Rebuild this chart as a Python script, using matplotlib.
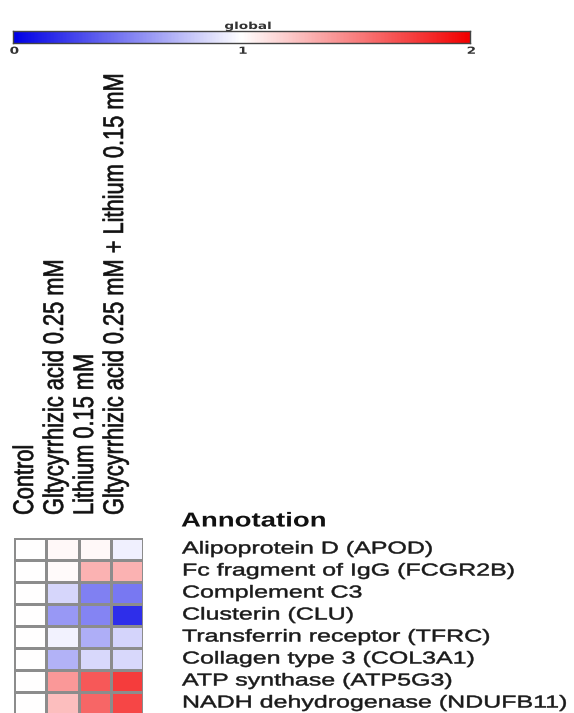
import numpy as np
import matplotlib
matplotlib.use("Agg")
from matplotlib import pyplot as plt
from matplotlib.colors import LinearSegmentedColormap
from matplotlib import patheffects
from matplotlib.transforms import Affine2D

## data
conditions = ["Control",
              "Gltycyrrhizic acid 0.25 mM",
              "Lithium 0.15 mM",
              "Gltycyrrhizic acid 0.25 mM + Lithium 0.15 mM"]
genes = ["Alipoprotein D (APOD)",
         "Fc fragment of IgG (FCGR2B)",
         "Complement C3",
         "Clusterin (CLU)",
         "Transferrin receptor (TFRC)",
         "Collagen type 3 (COL3A1)",
         "ATP synthase (ATP5G3)",
         "NADH dehydrogenase (NDUFB11)"]
control = [1.0, 1.0, 1.0, 1.0, 1.0, 1.0, 1.0, 1.0]
glyc = [1.03, 1.02, 0.84, 0.60, 0.95, 0.70, 1.40, 1.25]
lith = [1.03, 1.30, 0.50, 0.52, 0.68, 0.85, 1.65, 1.60]
glyc_lith = [0.94, 1.30, 0.47, 0.18, 0.83, 0.85, 1.76, 1.72]
cbar_ticks = [0, 1, 2]

W, H = 574, 713


class Stretch(patheffects.AbstractPathEffect):
    # the source image is stretched sideways, so widen the glyphs the same way
    # (and thicken them a little, the original is blurry)
    def __init__(self, sx=1.0, sy=1.0, lw=0.0):
        super().__init__()
        self.sx, self.sy, self.lw = sx, sy, lw

    def draw_path(self, renderer, gc, tpath, affine, rgbFace=None):
        gc0 = renderer.new_gc()
        gc0.copy_properties(gc)
        if self.lw > 0 and rgbFace is not None:
            gc0.set_linewidth(self.lw)
            gc0.set_foreground(rgbFace)
        renderer.draw_path(gc0, tpath, Affine2D().scale(self.sx, self.sy) + affine, rgbFace)
        gc0.restore()


cmap = LinearSegmentedColormap.from_list("bwr2", [(0, 0, 0.9), (1, 1, 1), (0.95, 0, 0)])
vals = np.array([control, glyc, lith, glyc_lith]).T

fig = plt.figure(figsize=(W / 100, H / 100), dpi=100)

def box(x0, y0, x1, y1):
    # pixel box (top-left origin) -> figure fraction
    return [x0 / W, 1 - y1 / H, (x1 - x0) / W, (y1 - y0) / H]

# heatmap
ax = fig.add_axes(box(14, 538, 143, 714))
ax.pcolormesh(vals, cmap=cmap, vmin=0, vmax=2, edgecolors="#8c8c8c", linewidth=0.9)
ax.set_xlim(0, len(conditions))
ax.set_ylim(len(genes), 0)
ax.set_xticks([])
ax.set_yticks([])
for s in ax.spines.values():
    s.set_visible(False)

# rotated column labels, baseline on the right
for i, c in enumerate(conditions):
    fig.text((33 + 30 * i) / W, 1 - 515 / H, c, rotation=90, rotation_mode="anchor",
             ha="left", va="baseline", fontsize=15.7, family="Liberation Sans",
             color="#111111", path_effects=[Stretch(1.0, 1.3, 0.45)])

for j, g in enumerate(genes):
    fig.text(182 / W, 1 - (549 + 22 * j) / H, g, ha="left", va="center",
             fontsize=12.4, family="Liberation Sans", color="#1a1a1a",
             path_effects=[Stretch(1.45, 1.0, 0.35)])
fig.text(181 / W, 1 - 521 / H, "Annotation", ha="left", va="center",
         fontsize=14.5, family="Liberation Sans", fontweight="bold", color="#111111",
         path_effects=[Stretch(1.37, 1.0)])

# colour bar
cax = fig.add_axes(box(13, 31, 470, 43))
grad = np.linspace(0, 2, 400).reshape(1, -1)
cax.imshow(grad, aspect="auto", cmap=cmap, vmin=0, vmax=2, extent=[0, 2, 0, 1])
cax.set_yticks([])
cax.set_xticks(cbar_ticks)
cax.tick_params(axis="x", length=0, pad=2, labelsize=7)
for t in cax.get_xticklabels():
    t.set_fontweight("bold")
    t.set_color("#333333")
    t.set_path_effects([Stretch(1.4, 1.0)])
for s in cax.spines.values():
    s.set_color("#444444")
    s.set_linewidth(1.0)
ttl = cax.set_title("global", fontsize=7, fontweight="bold", color="#333333", pad=1)
ttl.set_path_effects([Stretch(1.4, 1.0)])

fig.savefig("out.png", dpi=100)
